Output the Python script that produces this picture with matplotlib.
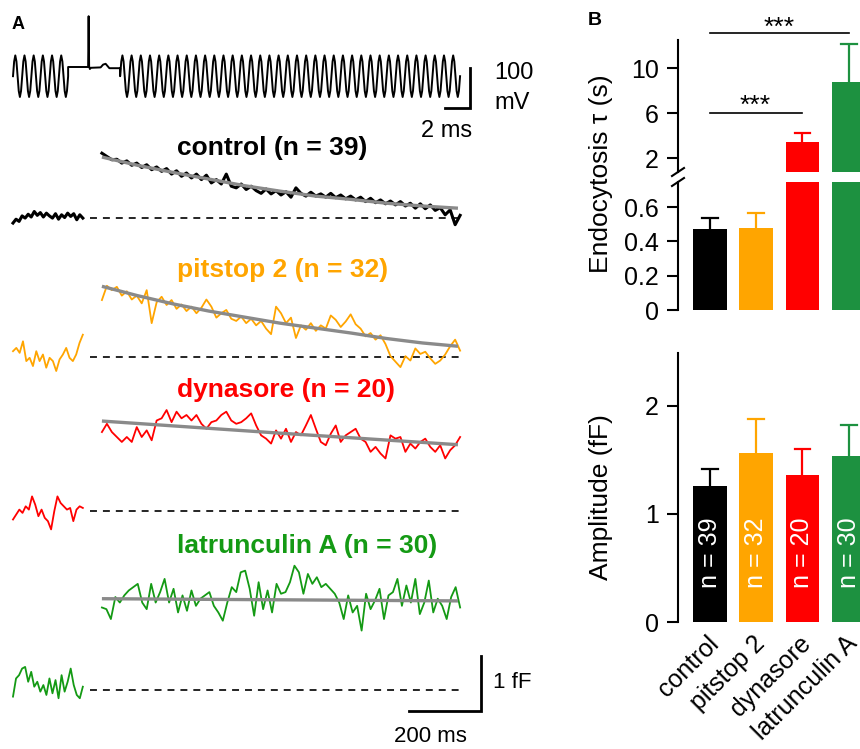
import numpy as np
import matplotlib.pyplot as plt
from matplotlib.lines import Line2D
from matplotlib.transforms import ScaledTranslation

plt.rcParams['font.family'] = ['Liberation Sans', 'DejaVu Sans']
plt.rcParams['lines.scale_dashes'] = False

# Figure geometry (pixels at dpi=100)
W, H = 860, 749

# Panel A: stimulus (sine + depolarising pulse)
cycle_mv = [-23, 14, 29, 14, -23, -60, -75, -60]
n_cyc_pre, n_cyc_post = 6, 37
period_ms = 0.735
gap_t = [0, 1.6, 1.64, 1.68, 1.74, 1.82, 2.6, 2.8, 3.0, 3.3, 4.16]
gap_mv = [0, 0, 127, 2, -5, -2, -1, 6, 8, -3, -3]

# Panel A: averaged capacitance traces (fF, relative to baseline)
conditions = ['control', 'pitstop 2', 'dynasore', 'latrunculin A']
n_cells = [39, 32, 20, 30]

control_pre = [-0.09, -0.02, -0.06, 0.04, 0.0, 0.07, 0.02, 0.12, 0.05, 0.10, 0.02, 0.09,
               0.04, 0.0, 0.08, -0.02, 0.06, 0.01, 0.09, 0.03, 0.08, -0.03, 0.06, 0.0]
control_post = [1.18, 1.12, 1.06, 1.07, 1.00, 1.04, 0.96, 1.00, 0.92, 0.97, 0.88, 0.93,
                0.85, 0.90, 0.80, 0.86, 0.76, 0.82, 0.73, 0.80, 0.70, 0.78, 0.64, 0.70,
                0.62, 0.80, 0.58, 0.55, 0.62, 0.52, 0.58, 0.50, 0.45, 0.53, 0.44, 0.50,
                0.42, 0.48, 0.38, 0.55, 0.45, 0.40, 0.47, 0.40, 0.44, 0.38, 0.45, 0.37,
                0.42, 0.35, 0.40, 0.33, 0.38, 0.30, 0.36, 0.28, 0.33, 0.26, 0.31, 0.24,
                0.30, 0.22, 0.27, 0.18, 0.26, 0.17, 0.24, 0.14, 0.19, 0.06, 0.15, -0.12, 0.05]
control_fit = [1.11, 0.96, 0.83, 0.71, 0.59, 0.49, 0.40, 0.34, 0.27, 0.22, 0.18]

pitstop_pre = [0.11, 0.17, 0.08, 0.29, -0.07, -0.01, -0.16, 0.11, -0.07, 0.05, -0.19,
               -0.01, -0.07, -0.25, -0.04, 0.05, 0.17, -0.01, -0.07, 0.05, 0.26, 0.41]
pitstop_post = [1.04, 1.30, 1.22, 1.28, 1.12, 1.20, 1.05, 1.12, 0.98, 1.22, 0.62, 1.00,
                1.10, 0.95, 1.04, 0.88, 0.96, 0.84, 0.92, 0.80, 0.90, 1.05, 0.92, 0.72,
                0.80, 0.86, 0.70, 0.66, 0.74, 0.62, 0.70, 0.58, 0.66, 0.52, 0.42, 0.92,
                0.80, 0.62, 0.72, 0.35, 0.58, 0.50, 0.62, 0.48, 0.58, 0.52, 0.76, 0.68,
                0.55, 0.65, 0.78, 0.60, 0.52, 0.38, 0.44, 0.32, 0.40, 0.24, 0.02, -0.08,
                -0.18, 0.02, -0.06, 0.16, 0.06, 0.10, -0.02, -0.12, -0.06, 0.05, 0.20, 0.32, 0.12]
pitstop_fit = [1.29, 1.12, 0.97, 0.84, 0.73, 0.62, 0.53, 0.44, 0.34, 0.26, 0.20]

dynasore_pre = [-0.15, -0.06, 0.03, -0.03, 0.09, 0.03, 0.27, 0.12, -0.09, 0.03, -0.12,
                -0.18, -0.33, 0.0, 0.27, 0.15, 0.09, 0.03, 0.06, -0.18, 0.03, 0.09, 0.06]
dynasore_post = [1.44, 1.59, 1.44, 1.35, 1.26, 1.35, 1.26, 1.53, 1.35, 1.47, 1.29, 1.65,
                 1.69, 1.84, 1.62, 1.81, 1.69, 1.75, 1.65, 1.75, 1.59, 1.50, 1.62, 1.65,
                 1.75, 1.81, 1.65, 1.59, 1.62, 1.69, 1.78, 1.56, 1.38, 1.32, 1.23, 1.47,
                 1.32, 1.50, 1.26, 1.44, 1.38, 1.56, 1.75, 1.50, 1.26, 1.20, 1.41, 1.56,
                 1.26, 1.38, 1.44, 1.50, 1.32, 1.26, 1.08, 1.17, 1.05, 0.96, 1.38, 1.32,
                 1.35, 1.08, 1.23, 1.14, 1.26, 1.32, 1.17, 1.08, 1.20, 0.96, 1.11, 1.20, 1.35]
dynasore_fit = [1.64, 1.42, 1.21]

latrunculin_pre = [-0.12, 0.21, 0.27, 0.39, 0.42, 0.15, 0.33, 0.06, 0.15, -0.03, 0.09, -0.09,
                   0.21, -0.06, 0.18, -0.15, 0.27, -0.03, 0.15, 0.39, 0.09, -0.09, -0.15, 0.06]
latrunculin_post = [1.50, 1.47, 1.29, 1.69, 1.59, 1.72, 1.81, 1.87, 1.93, 1.59, 1.47, 1.93,
                    1.59, 1.78, 2.02, 1.59, 1.84, 1.41, 1.72, 1.44, 1.81, 1.53, 1.66, 1.72,
                    1.78, 1.53, 1.41, 1.26, 1.59, 1.87, 1.78, 2.14, 2.17, 1.84, 1.35, 1.96,
                    1.47, 1.81, 1.41, 1.93, 1.75, 1.78, 1.96, 2.26, 2.14, 1.75, 2.11, 1.93,
                    2.05, 1.87, 1.93, 1.84, 1.75, 1.59, 1.29, 1.72, 1.41, 1.53, 1.08, 1.75,
                    1.47, 1.63, 1.84, 1.29, 1.72, 1.78, 2.02, 1.53, 1.90, 1.59, 2.02, 1.38,
                    1.59, 1.99, 1.41, 1.66, 1.53, 1.29, 1.69, 1.87, 1.50]
latrunculin_fit = [1.66, 1.64, 1.62]

# Panel B: bar data (mean, SEM)
tau_mean = [0.47, 0.48, 3.4, 8.75]
tau_sem = [0.065, 0.085, 0.8, 3.35]
amp_mean = [1.26, 1.565, 1.36, 1.54]
amp_sem = [0.16, 0.315, 0.24, 0.28]

trace_colors = ['#000000', '#ffa500', '#ff0000', '#149a14']
bar_colors = ['#000000', '#ffa500', '#ff0000', '#1d9140']
fit_color = '#8a8a8a'


def box(x0, y0, x1, y1):
    return [x0 / W, 1 - y1 / H, (x1 - x0) / W, (y1 - y0) / H]


def fxy(x, y):
    return x / W, 1 - y / H


fig = plt.figure(figsize=(W / 100, H / 100), dpi=100)

# ---------- Panel A: stimulus ----------
ax_st = fig.add_axes([0, 0, 1, 1])
ax_st.axis('off')
px_per_ms, px_per_mv = 12.5, 0.4
ax_st.set_xlim(-13 / px_per_ms, (W - 13) / px_per_ms)
ax_st.set_ylim((67 - H) / px_per_mv, 67 / px_per_mv)

step = period_ms / len(cycle_mv)
pre_mv = np.append(np.tile(cycle_mv, n_cyc_pre), cycle_mv[0])
pre_t = np.arange(len(pre_mv)) * step
gap_tt = pre_t[-1] + np.array(gap_t)
post_mv = np.append(np.tile(cycle_mv, n_cyc_post), cycle_mv[0])
post_t = gap_tt[-1] + np.arange(len(post_mv)) * step
stim_t = np.concatenate([pre_t, gap_tt, post_t])
stim_mv = np.concatenate([pre_mv, gap_mv, post_mv])
ax_st.plot(stim_t, stim_mv, color='k', lw=1.4)

# 100 mV / 2 ms scale bar
ax_st.plot([34.6, 36.6, 36.6], [-102.5, -102.5, -2.5], color='k', lw=2, solid_joinstyle='miter')
fig.text(*fxy(494, 73), '100', fontsize=17, va='center', ha='left')
fig.text(*fxy(494, 103), 'mV', fontsize=17, va='center', ha='left')
fig.text(*fxy(447, 131), '2 ms', fontsize=17, va='center', ha='center')

# ---------- Panel A: capacitance traces ----------
ax_a = fig.add_axes([0, 0, 1, 1])
ax_a.axis('off')
ax_a.patch.set_alpha(0)
ms_per_px, px_per_ff = 200 / 72, 55
ax_a.set_xlim(-13 * ms_per_px, (W - 13) * ms_per_px)
ax_a.set_ylim((690 - H) / px_per_ff, 690 / px_per_ff)

offsets = [8.58, 6.05, 3.25, 0.0]
pres = [control_pre, pitstop_pre, dynasore_pre, latrunculin_pre]
posts = [control_post, pitstop_post, dynasore_post, latrunculin_post]
fits = [control_fit, pitstop_fit, dynasore_fit, latrunculin_fit]
label_base_px = [155, 277, 397, 553]
pre_span, post_span, fit_span = (0, 194), (247, 1242), (247, 1236)

for k in range(4):
    off, c = offsets[k], trace_colors[k]
    lw = 2.2 if k == 0 else 1.3
    ax_a.plot([214, 1242], [off, off], color='k', lw=1.2, dashes=(5, 4.3))
    tp = np.linspace(*pre_span, len(pres[k]))
    ax_a.plot(tp, np.array(pres[k]) + off, color=c, lw=lw)
    tq = np.linspace(*post_span, len(posts[k]))
    ax_a.plot(tq, np.array(posts[k]) + off, color=c, lw=lw)
    tf = np.linspace(*fit_span, len(fits[k]))
    ax_a.plot(tf, np.array(fits[k]) + off, color=fit_color, lw=2.4, solid_capstyle='butt')
    fig.text(*fxy(177, label_base_px[k]), f'{conditions[k]} (n = {n_cells[k]})',
             fontsize=19, fontweight='bold', color=c, ha='left', va='baseline')

# 1 fF / 200 ms scale bar
ax_a.plot([1100, 1300, 1300], [-0.38, -0.38, 0.62], color='k', lw=2, solid_joinstyle='miter')
fig.text(*fxy(493, 683), '1 fF', fontsize=16, va='center', ha='left')
fig.text(*fxy(430, 737), '200 ms', fontsize=16, va='center', ha='center')

fig.text(*fxy(12, 16), 'A', fontsize=13, fontweight='bold', va='top', ha='left')
fig.text(*fxy(588, 12), 'B', fontsize=14, fontweight='bold', va='top', ha='left')

# ---------- Panel B: endocytosis time constant (broken axis) ----------
pos = np.arange(4)
xlim = (-0.69, 3.46)
cap_half = 0.17
ax_up = fig.add_axes(box(678, 40, 870, 172))
ax_lo = fig.add_axes(box(678, 182, 870, 310))
ax_amp = fig.add_axes(box(678, 353, 870, 622))


def style(ax):
    for s in ('top', 'right', 'bottom'):
        ax.spines[s].set_visible(False)
    ax.spines['left'].set_linewidth(1.5)
    ax.tick_params(axis='y', length=8, width=1.5, labelsize=18, pad=6)
    ax.set_xlim(*xlim)
    ax.patch.set_alpha(0)


def bars_with_sem(ax, means, sems):
    ax.bar(pos, means, width=0.73, color=bar_colors, zorder=2)
    for x, m, s, c in zip(pos, means, sems, bar_colors):
        ax.plot([x, x], [m, m + s], color=c, lw=1.6, zorder=1, solid_capstyle='butt')
        ax.plot([x - cap_half, x + cap_half], [m + s, m + s], color=c, lw=1.6, zorder=1)


for ax in (ax_up, ax_lo):
    style(ax)
    ax.set_xticks([])
    bars_with_sem(ax, tau_mean, tau_sem)

ax_up.set_ylim(0.756, 12.49)
ax_up.set_yticks([2, 6, 10])
ax_lo.set_ylim(0, 0.746)
ax_lo.set_yticks([0, 0.2, 0.4, 0.6])
ax_lo.set_yticklabels(['0', '0.2', '0.4', '0.6'])

# axis break marks
for yb in (172, 182):
    fig.add_artist(Line2D([672 / W, 684 / W], [1 - (yb + 4) / H, 1 - (yb - 4) / H],
                          color='k', lw=1.5, transform=fig.transFigure))

# significance brackets
ax_up.plot([0, 2], [6, 6], color='k', lw=1.2)
ax_up.plot([0, 3], [13.1, 13.1], color='k', lw=1.2, clip_on=False)
fig.text(*fxy(755, 113), '***', fontsize=19, ha='center', va='baseline')
fig.text(*fxy(779, 35), '***', fontsize=19, ha='center', va='baseline')

fig.text(*fxy(601, 174), 'Endocytosis τ (s)', fontsize=19, rotation=90, ha='center', va='center')

# ---------- Panel B: amplitude ----------
style(ax_amp)
bars_with_sem(ax_amp, amp_mean, amp_sem)
for i in range(4):
    ax_amp.text(pos[i], 0.64, f'n = {n_cells[i]}', color='white', fontsize=18,
                rotation=90, ha='center', va='center', zorder=3)
ax_amp.set_ylim(0, 2.49)
ax_amp.set_yticks([0, 1, 2])
ax_amp.set_xticks(pos)
ax_amp.set_xticklabels(conditions, rotation=45, ha='right', va='center',
                       rotation_mode='anchor', fontsize=18)
ax_amp.tick_params(axis='x', length=0, pad=13)
shift = ScaledTranslation(5 / 100, 0, fig.dpi_scale_trans)
for lab in ax_amp.get_xticklabels():
    lab.set_transform(lab.get_transform() + shift)

fig.text(*fxy(601, 497), 'Amplitude (fF)', fontsize=19, rotation=90, ha='center', va='center')

fig.savefig('out.png', dpi=100)
